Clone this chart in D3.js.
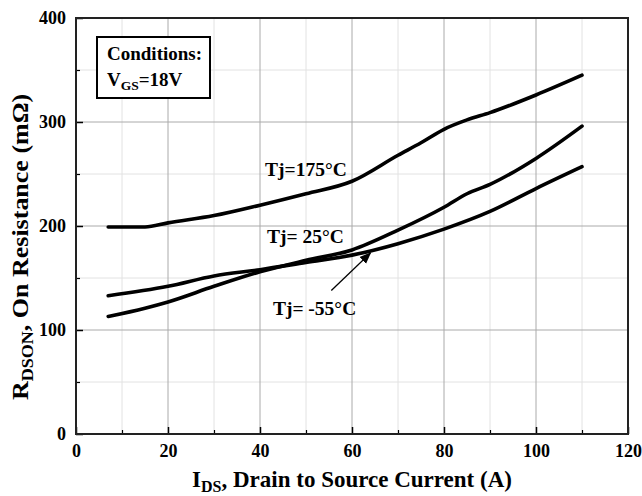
<!DOCTYPE html>
<html><head><meta charset="utf-8">
<script src="https://cdn.jsdelivr.net/npm/d3@7"></script>
<style>
body{margin:0;background:#fff;}
text{font-family:"Liberation Serif","Times New Roman",serif;font-weight:bold;fill:#000;}
</style></head>
<body><svg id="c" width="642" height="496"></svg>
<script>
// Data
const xTicksMajor = [0,20,40,60,80,100,120];
const xTicksMinor = [10,30,50,70,90,110];
const yTicksMajor = [0,100,200,300,400];
const yTicksMinor = [50,150,250,350];

const current = [7,15,20,30,40,50,60,70,75,80,85,90,100,110];
const r175 = [199,199,203,210,220,231,243,268,280,293,302,309,326,345];

const current25 = [7,15,20,30,40,50,60,70,80,85,90,100,110];
const r25 = [113,121,127,142,156,167,177,196,218,231,240,265,296];

const currentM55 = [7,20,30,40,50,60,70,80,90,100,110];
const rM55 = [133,142,152,158,165,172,183,197,214,236,257];

const seriesLabels = ["Tj=175°C","Tj= 25°C","Tj= -55°C"];

const svg = d3.select("#c");
const x = d3.scaleLinear().domain([0,120]).range([76,628]);
const y = d3.scaleLinear().domain([0,400]).range([434,18]);

// grid
const g = svg.append("g");
g.selectAll(".vmin").data(xTicksMinor).join("line")
  .attr("x1",d=>x(d)).attr("x2",d=>x(d)).attr("y1",y(0)).attr("y2",y(400))
  .attr("stroke","#e2e2e2").attr("stroke-width",1);
g.selectAll(".hmin").data(yTicksMinor).join("line")
  .attr("y1",d=>y(d)).attr("y2",d=>y(d)).attr("x1",x(0)).attr("x2",x(120))
  .attr("stroke","#e2e2e2").attr("stroke-width",1);
g.selectAll(".vmaj").data(xTicksMajor.slice(1,-1)).join("line")
  .attr("x1",d=>x(d)).attr("x2",d=>x(d)).attr("y1",y(0)).attr("y2",y(400))
  .attr("stroke","#aaa").attr("stroke-width",1);
g.selectAll(".hmaj").data(yTicksMajor.slice(1,-1)).join("line")
  .attr("y1",d=>y(d)).attr("y2",d=>y(d)).attr("x1",x(0)).attr("x2",x(120))
  .attr("stroke","#aaa").attr("stroke-width",1);

// axes with inward ticks
const xAxis = d3.axisBottom(x).tickValues(xTicksMajor).tickSize(-7).tickPadding(10).tickFormat(d3.format("d"));
const xa = svg.append("g").attr("transform",`translate(0,${y(0)})`).call(xAxis);
xa.select(".domain").remove();
xa.selectAll("line").attr("stroke","#000").attr("stroke-width",1.5);
xa.selectAll("text").style("font-size","18px").style("font-family","Liberation Serif").style("font-weight","bold");
const xm = svg.append("g").attr("transform",`translate(0,${y(0)})`).call(d3.axisBottom(x).tickValues(xTicksMinor).tickSize(-4).tickFormat(""));
xm.select(".domain").remove(); xm.selectAll("line").attr("stroke","#000").attr("stroke-width",1.2);

const yAxis = d3.axisLeft(y).tickValues(yTicksMajor).tickSize(-7).tickPadding(10).tickFormat(d3.format("d"));
const ya = svg.append("g").attr("transform",`translate(${x(0)},0)`).call(yAxis);
ya.select(".domain").remove();
ya.selectAll("line").attr("stroke","#000").attr("stroke-width",1.5);
ya.selectAll("text").style("font-size","18px").style("font-family","Liberation Serif").style("font-weight","bold");
const ym = svg.append("g").attr("transform",`translate(${x(0)},0)`).call(d3.axisLeft(y).tickValues(yTicksMinor).tickSize(-4).tickFormat(""));
ym.select(".domain").remove(); ym.selectAll("line").attr("stroke","#000").attr("stroke-width",1.2);

// frame
svg.append("rect").attr("x",x(0)).attr("y",y(400)).attr("width",x(120)-x(0)).attr("height",y(0)-y(400))
  .attr("fill","none").attr("stroke","#222").attr("stroke-width",2);

// curves
const line = d3.line().x(d=>x(d[0])).y(d=>y(d[1])).curve(d3.curveMonotoneX);
const sets = [d3.zip(current,r175), d3.zip(current25,r25), d3.zip(currentM55,rM55)];
svg.selectAll(".crv").data(sets).join("path")
  .attr("d",line).attr("fill","none").attr("stroke","#000").attr("stroke-width",3.6)
  .attr("stroke-linecap","round").attr("stroke-linejoin","round");

// labels
const lab = [[41.1,248],[41.5,183.7],[42.8,114.4]];
svg.selectAll(".lbl").data(seriesLabels).join("text")
  .attr("x",(d,i)=>x(lab[i][0])).attr("y",(d,i)=>y(lab[i][1]))
  .style("font-size","19.5px").text(d=>d);

// arrow
svg.append("defs").append("marker").attr("id","ah").attr("viewBox","0 0 10 10")
  .attr("refX",9).attr("refY",5).attr("markerWidth",9).attr("markerHeight",9).attr("orient","auto")
  .append("path").attr("d","M0,1 L10,5 L0,9 Z").attr("fill","#000");
svg.append("line").attr("x1",x(55.5)).attr("y1",y(138)).attr("x2",x(64)).attr("y2",y(174))
  .attr("stroke","#000").attr("stroke-width",1.3).attr("marker-end","url(#ah)");

// conditions box
svg.append("rect").attr("x",97).attr("y",37).attr("width",113).attr("height",61)
  .attr("fill","#fff").attr("stroke","#000").attr("stroke-width",2);
svg.append("text").attr("x",107).attr("y",60).style("font-size","19px").text("Conditions:");
const t2 = svg.append("text").attr("x",107).attr("y",86).style("font-size","19px");
t2.append("tspan").text("V");
t2.append("tspan").attr("dy",4).style("font-size","13.5px").text("GS");
t2.append("tspan").attr("dy",-4).text("=18V");

// axis titles
const xt = svg.append("text").attr("x",(x(0)+x(120))/2).attr("y",487).attr("text-anchor","middle").style("font-size","23px");
xt.append("tspan").text("I");
xt.append("tspan").attr("dy",5).style("font-size","16px").text("DS");
xt.append("tspan").attr("dy",-5).text(", Drain to Source Current (A)");

const yt = svg.append("text").attr("transform",`translate(28,247) rotate(-90) scale(1.13,1)`).attr("text-anchor","middle").style("font-size","23px");
yt.append("tspan").text("R");
yt.append("tspan").attr("dy",5).style("font-size","16px").text("DSON");
yt.append("tspan").attr("dy",-5).text(", On Resistance (mΩ)");
</script></body></html>
